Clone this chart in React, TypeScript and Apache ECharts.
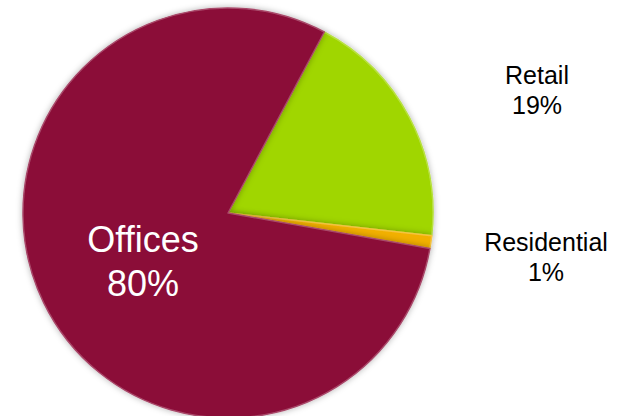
import React, { useEffect, useRef } from "react";
import * as echarts from "echarts";

const categories = ["Retail", "Residential", "Offices"];
const values = [19, 1, 80];
const colors = ["#A0D600", "#F2B000", "#8B0B37"];
const labelColors = ["#000000", "#000000", "#FFFFFF"];
const labelSizes = [25, 25, 36];
const labelLineHeights = [30, 30, 44];
// label anchor points (layout only)
const labelPos = [
  [537, 90],
  [546, 257],
  [143, 261],
];

export default function App() {
  const ref = useRef<HTMLDivElement>(null);
  useEffect(() => {
    if (!ref.current) return;
    const chart = echarts.init(ref.current, undefined, { renderer: "svg" });
    chart.setOption({
      animation: false,
      backgroundColor: "#ffffff",
      series: [
        {
          type: "pie",
          center: [228, 213],
          radius: [0, 205],
          startAngle: 62,
          clockwise: true,
          avoidLabelOverlap: false,
          itemStyle: {
            borderWidth: 1.5,
            shadowBlur: 6,
            shadowColor: "rgba(0,0,0,0.3)",
          },
          label: {
            show: true,
            position: "inside",
            fontFamily: "Liberation Sans",
            formatter: (p: any) => `${p.name}\n${p.value}%`,
          },
          labelLine: { show: false },
          labelLayout: (params: any) => ({
            x: labelPos[params.dataIndex][0],
            y: labelPos[params.dataIndex][1],
            align: "center",
            verticalAlign: "middle",
          }),
          data: categories.map((c, i) => ({
            name: c,
            value: values[i],
            itemStyle: {
              color: colors[i],
              borderColor: echarts.color.lift(colors[i], 0.25),
            },
            label: {
              color: labelColors[i],
              fontSize: labelSizes[i],
              lineHeight: labelLineHeights[i],
            },
          })),
        },
      ],
    });
    return () => chart.dispose();
  }, []);
  return <div ref={ref} style={{ width: 629, height: 416, position: "absolute", left: 0, top: 0 }} />;
}
